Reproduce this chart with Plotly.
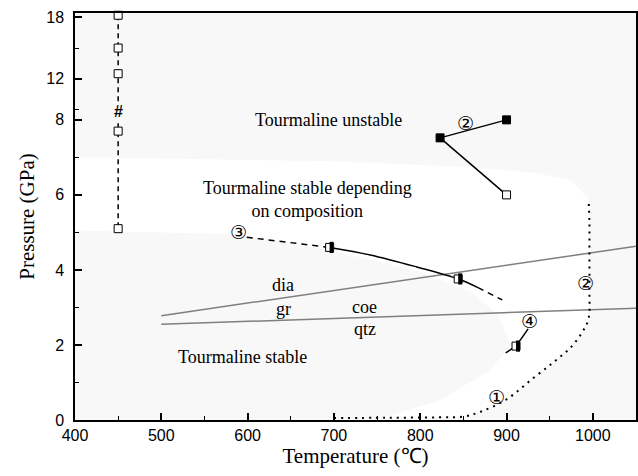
import plotly.graph_objects as go

# ---------------- data (temperature in °C, pressure in GPa) ----------------
hash_T = [450, 450, 450, 450, 450]
hash_P = [18.2, 15.0, 12.5, 7.7, 5.1]

c2_T = [900, 823, 900]
c2_P = [8.0, 7.52, 6.0]
c2_filled = [True, True, False]

c3_dash1_T = [599, 695]
c3_dash1_P = [4.87, 4.60]
c3_solid_T = [695, 742, 796, 844, 867]
c3_solid_P = [4.60, 4.40, 4.08, 3.76, 3.53]
c3_dash2_T = [867, 895]
c3_dash2_P = [3.53, 3.20]
c3_pts_T = [695, 844]
c3_pts_P = [4.60, 3.76]

c4_T = [899, 911, 925]
c4_P = [1.79, 1.97, 2.43]
c4_pts_T = [911]
c4_pts_P = [1.97]

c1_T = [700, 760, 820, 850, 870, 900, 930, 955, 975, 988, 995, 996, 996, 996, 995]
c1_P = [0.05, 0.06, 0.07, 0.09, 0.22, 0.55, 1.10, 1.55, 1.95, 2.35, 2.70, 3.50, 4.50, 5.30, 5.90]

dia_T = [500, 1050]
dia_P = [2.78, 4.63]
coe_T = [500, 1050]
coe_P = [2.55, 2.98]

# white field ("stable depending on composition") outline
field_T = [400, 700, 850, 930, 975, 995, 996, 996, 988, 955, 930, 900, 870, 850, 820, 755,
           820, 880, 905, 890, 860, 800, 700, 590, 400]
field_P = [7.0, 6.9, 6.75, 6.6, 6.4, 5.9, 4.5, 2.7, 2.35, 1.55, 1.1, 0.55, 0.22, 0.09, 0.07, 0.05,
           0.5, 1.3, 2.0, 2.8, 3.4, 3.95, 4.5, 4.95, 5.05]

labels = [
    ("Tourmaline unstable", 694, 8.0, 18),
    ("Tourmaline stable depending<br>on composition", 669, 5.87, 18),
    ("Tourmaline stable", 594, 1.69, 18),
    ("dia", 641, 3.60, 18),
    ("gr", 641, 2.96, 18),
    ("coe", 736, 3.02, 18),
    ("qtz", 736, 2.42, 18),
]
circled = [
    ("③", 590, 5.02),
    ("②", 852, 7.92),
    ("②", 991, 3.64),
    ("④", 927, 2.64),
    ("①", 888, 0.62),
]

y_major = [0, 2, 4, 6, 8, 12, 18]
y_minor = [1, 3, 5, 7, 9, 15]
x_major = [400, 500, 600, 700, 800, 900, 1000]
x_minor = [450, 550, 650, 750, 850, 950]

X_RANGE = [400, 1050]

FIG_W, FIG_H = 638, 476
M_L, M_R, M_T, M_B = 75, 2, 13, 56
PLOT_W = FIG_W - M_L - M_R

# ---------------- broken pressure scale ----------------
BREAK = 8.0
UPPER = 10.25 / 37.5


def yd(p):
    if isinstance(p, (list, tuple)):
        return [yd(v) for v in p]
    return p if p <= BREAK else BREAK + (p - BREAK) * UPPER


fig = go.Figure()

serif = "Liberation Serif, Times New Roman, serif"
sans = "Liberation Sans, Arial, sans-serif"
circ_font = "DejaVu Sans, Noto Sans CJK SC, sans-serif"

# background field
path = "M " + " L ".join(f"{t},{yd(p)}" for t, p in zip(field_T, field_P)) + " Z"
fig.add_shape(type="path", path=path, xref="x", yref="y", fillcolor="white",
              line=dict(width=0), layer="below")

# gray reaction lines
for T, P in [(dia_T, dia_P), (coe_T, coe_P)]:
    fig.add_trace(go.Scatter(x=T, y=yd(P), mode="lines",
                             line=dict(color="#7f7f7f", width=1.5), hoverinfo="skip"))

# dotted curve ①/②
fig.add_trace(go.Scatter(x=c1_T, y=yd(c1_P), mode="lines",
                         line=dict(color="black", width=2, dash="2px,5px", shape="spline"),
                         hoverinfo="skip"))

# "#" vertical dashed line
fig.add_trace(go.Scatter(x=hash_T, y=yd(hash_P), mode="lines+markers",
                         line=dict(color="black", width=1.5, dash="5px,4px"),
                         marker=dict(symbol="square", size=8, color="white",
                                     line=dict(color="black", width=1)),
                         cliponaxis=False, hoverinfo="skip"))

# curve ② (upper)
fig.add_trace(go.Scatter(x=c2_T, y=yd(c2_P), mode="lines+markers",
                         line=dict(color="black", width=1.5),
                         marker=dict(symbol="square", size=8,
                                     color=["black" if f else "white" for f in c2_filled],
                                     line=dict(color="black", width=1)),
                         hoverinfo="skip"))

# curve ③
fig.add_trace(go.Scatter(x=c3_dash1_T, y=yd(c3_dash1_P), mode="lines",
                         line=dict(color="black", width=1.5, dash="6px,5px"), hoverinfo="skip"))
fig.add_trace(go.Scatter(x=c3_solid_T, y=yd(c3_solid_P), mode="lines",
                         line=dict(color="black", width=1.5, shape="spline"), hoverinfo="skip"))
fig.add_trace(go.Scatter(x=c3_dash2_T, y=yd(c3_dash2_P), mode="lines",
                         line=dict(color="black", width=1.5, dash="6px,5px"), hoverinfo="skip"))

# curve ④
fig.add_trace(go.Scatter(x=c4_T, y=yd(c4_P), mode="lines",
                         line=dict(color="black", width=1.5), hoverinfo="skip"))

# half-filled squares: open square + right-half black bar
half_T = c3_pts_T + c4_pts_T
half_P = c3_pts_P + c4_pts_P
fig.add_trace(go.Scatter(x=half_T, y=yd(half_P), mode="markers",
                         marker=dict(symbol="square", size=8, color="white",
                                     line=dict(color="black", width=1)),
                         hoverinfo="skip"))
shift = 2.0 * (X_RANGE[1] - X_RANGE[0]) / PLOT_W
fig.add_trace(go.Scatter(x=[t + shift for t in half_T], y=yd(half_P), mode="markers",
                         marker=dict(symbol="line-ns", size=8,
                                     line=dict(color="black", width=4)),
                         hoverinfo="skip"))

# text labels
for txt, t, p, s in labels:
    fig.add_annotation(x=t, y=yd(p), text=txt, showarrow=False,
                       font=dict(family=serif, size=s, color="black"))
for txt, t, p in circled:
    fig.add_annotation(x=t, y=yd(p), text=txt, showarrow=False,
                       font=dict(family=circ_font, size=19, color="black"))
fig.add_annotation(x=450, y=yd(8.8), text="<b>#</b>", showarrow=False,
                   bgcolor="#f8f8f8", borderpad=0,
                   font=dict(family=sans, size=16, color="black"))

fig.update_layout(
    template="none",
    width=FIG_W, height=FIG_H,
    margin=dict(l=M_L, r=M_R, t=M_T, b=M_B),
    paper_bgcolor="white", plot_bgcolor="#f8f8f8",
    showlegend=False,
)
fig.update_xaxes(
    range=X_RANGE, tickmode="array", tickvals=x_major,
    ticktext=[str(v) for v in x_major], automargin=False,
    ticks="inside", ticklen=7, tickwidth=1.5, tickcolor="black",
    minor=dict(tickmode="array", tickvals=x_minor,
               ticks="inside", ticklen=4, tickwidth=1.2, tickcolor="black"),
    showline=True, linecolor="black", linewidth=1.5, mirror=True,
    showgrid=False, zeroline=False,
    tickfont=dict(family=sans, size=16, color="black"),
    title=dict(text="Temperature (℃)", font=dict(family=serif, size=21, color="black"),
               standoff=4),
)
fig.update_yaxes(
    range=[0, yd(18.42)], tickmode="array", tickvals=yd(y_major),
    ticktext=[str(v) for v in y_major], automargin=False,
    ticks="inside", ticklen=7, tickwidth=1.5, tickcolor="black",
    minor=dict(tickmode="array", tickvals=yd(y_minor),
               ticks="inside", ticklen=4, tickwidth=1.2, tickcolor="black"),
    showline=True, linecolor="black", linewidth=1.5, mirror=True,
    showgrid=False, zeroline=False,
    tickfont=dict(family=sans, size=16, color="black"),
    ticklabelstandoff=6,
    title=dict(text="Pressure (GPa)", font=dict(family=serif, size=21, color="black"),
               standoff=6),
)

fig.write_html("out.html", config={"displayModeBar": False},
               post_script="document.body.style.margin='0';document.body.style.overflow='hidden';")
